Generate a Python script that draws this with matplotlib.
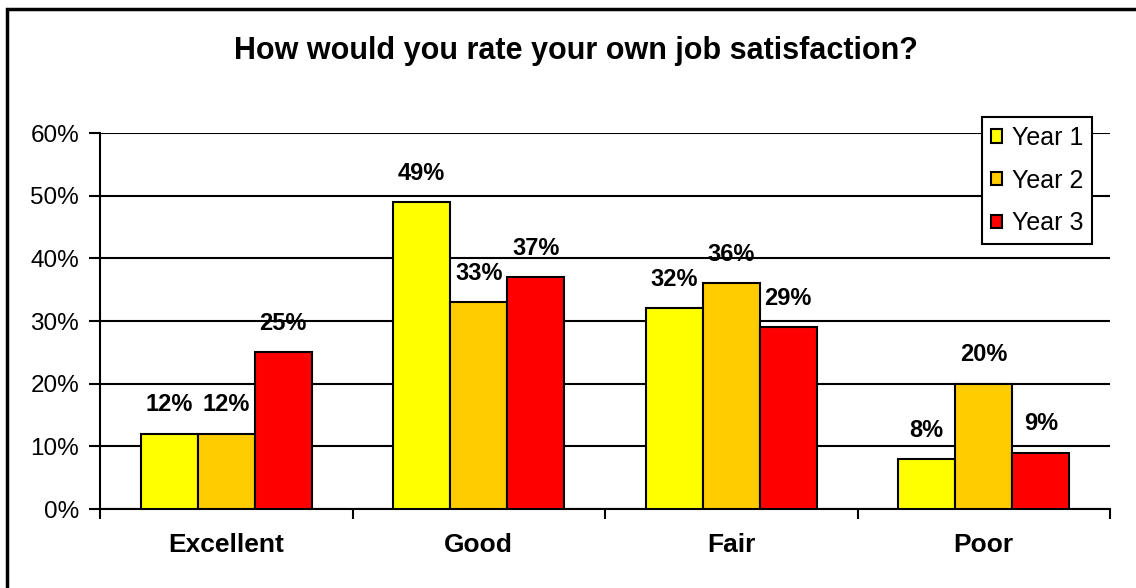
import numpy as np
import matplotlib.pyplot as plt
from matplotlib.patches import Rectangle
from matplotlib.ticker import FuncFormatter

categories = ["Excellent", "Good", "Fair", "Poor"]
series_names = ["Year 1", "Year 2", "Year 3"]
year1 = [12, 49, 32, 8]
year2 = [12, 33, 36, 20]
year3 = [25, 37, 29, 9]
yticks = [0, 10, 20, 30, 40, 50, 60]

colors = ["#FFFF00", "#FFCC00", "#FF0000"]
plt.rcParams['font.family'] = ['Liberation Sans', 'DejaVu Sans']

W, H = 1136, 588
fig = plt.figure(figsize=(W / 100, H / 100), dpi=100)
ax = fig.add_axes([100 / W, 1 - 509 / H, 1010 / W, 376 / H])

x = np.arange(len(categories))
width = 57 / 252.5
for i, (vals, name) in enumerate(zip([year1, year2, year3], series_names)):
    pos = x + (i - 1) * width
    bars = ax.bar(pos, vals, width, color=colors[i], edgecolor="black",
                  linewidth=1.5, label=name, zorder=3)
    for b, v in zip(bars, vals):
        ax.annotate(f"{v}%", (b.get_x() + b.get_width() / 2, v),
                    xytext=(0, 12.5), textcoords="offset points",
                    ha="center", va="bottom", fontsize=17, fontweight="bold")

ax.set_xlim(-0.5, len(categories) - 0.5)
ax.set_ylim(0, 60)
ax.set_yticks(yticks)
ax.yaxis.set_major_formatter(FuncFormatter(lambda v, p: f"{int(v)}%"))
ax.tick_params(axis="y", labelsize=17.5, length=8, width=1.5, direction="out", pad=7)
ax.set_xticks(x)
ax.set_xticklabels(categories, fontsize=19, fontweight="bold")
ax.set_xticks(np.arange(-0.5, len(categories)), minor=True)
ax.tick_params(axis="x", which="major", length=0, pad=17)
ax.tick_params(axis="x", which="minor", length=7, width=1.5, direction="out")

ax.grid(axis="y", color="black", linewidth=1.5, zorder=0)
for s in ["top", "right"]:
    ax.spines[s].set_visible(False)
for s in ["left", "bottom"]:
    ax.spines[s].set_linewidth(1.5)

leg = ax.legend(loc="upper left", bbox_to_anchor=(982 / W, 1 - 117 / H),
                bbox_transform=fig.transFigure, borderaxespad=0, fontsize=18,
                frameon=True, fancybox=False, edgecolor="black", framealpha=1,
                handlelength=0.45, handleheight=0.45, handletextpad=0.4,
                labelspacing=0.75, borderpad=0.35)
leg.get_frame().set_linewidth(1.5)
leg.set_zorder(5)

fig.text(0.507, 1 - 51 / H, "How would you rate your own job satisfaction?",
         ha="center", va="center", fontsize=22, fontweight="bold")

fig.patches.append(Rectangle((7 / W, -0.1), 1.2, 1 - 9 / H + 0.1,
                             transform=fig.transFigure, fill=False,
                             edgecolor="black", linewidth=2.5))

fig.savefig("out.png", dpi=100)
